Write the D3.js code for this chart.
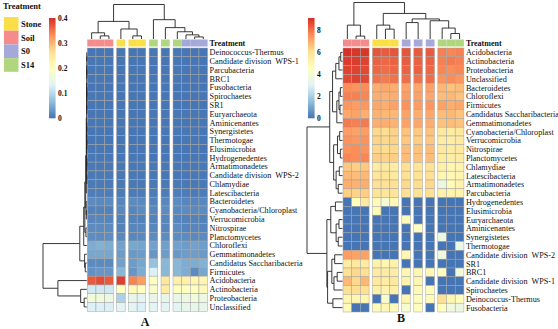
<!DOCTYPE html>
<html>

<head>
    <meta charset="utf-8">
    <script src="https://d3js.org/d3.v7.min.js"></script>
    <style>
        body { margin: 0; background: #fff; }
        text { font-family: "Liberation Serif", "DejaVu Serif", serif; fill: #111; }
    </style>
</head>

<body>
    <script type="text/javascript">
        // treatments and their annotation colours
        const treatments = ["Stone", "Soil", "S0", "S14"];
        const treatmentColors = ["#FADF48", "#F58C8B", "#A5A9DA", "#B1D680"];
        const heatColors = ["#4575B4", "#91BFDB", "#E0F3F8", "#FFFFBF", "#FEE090", "#FC8D59", "#D73027"];

        // ---- panel A : relative abundance ----
        const samplesA = ["Soil_1", "Soil_2", "Soil_3", "Stone_1", "Stone_2", "Stone_3",
            "S14_1", "S14_2", "S14_3", "S0_1", "S0_2", "S0_3"];
        const gapsA = [3, 4, 6, 7, 8];
        const ticksA = [0, 0.1, 0.2, 0.3, 0.4];
        const maxA = 0.4;
        const phylaA = ["Deinococcus-Thermus", "Candidate division  WPS-1", "Parcubacteria", "BRC1",
            "Fusobacteria", "Spirochaetes", "SR1", "Euryarchaeota", "Aminicenantes", "Synergistetes",
            "Thermotogae", "Elusimicrobia", "Hydrogenedentes", "Armatimonadetes",
            "Candidate division  WPS-2", "Chlamydiae", "Latescibacteria", "Bacteroidetes",
            "Cyanobacteria/Chloroplast", "Verrucomicrobia", "Nitrospirae", "Planctomycetes",
            "Chloroflexi", "Gemmatimonadetes", "Candidatus Saccharibacteria", "Firmicutes",
            "Acidobacteria", "Actinobacteria", "Proteobacteria", "Unclassified"];
        const abundA = [
            [0.001, 0.001, 0.001, 0.002, 0.001, 0.001, 0.002, 0.001, 0.001, 0.001, 0.001, 0.002],
            [0.002, 0.002, 0.002, 0.001, 0.001, 0.001, 0.001, 0.001, 0.001, 0.001, 0.001, 0.001],
            [0.002, 0.002, 0.002, 0.001, 0.002, 0.002, 0.001, 0.002, 0.002, 0.002, 0.002, 0.002],
            [0.002, 0.002, 0.002, 0.002, 0.001, 0.001, 0.001, 0.001, 0.002, 0.001, 0.001, 0.001],
            [0.001, 0.001, 0.001, 0.001, 0.001, 0.001, 0.001, 0.001, 0.001, 0.001, 0.001, 0.001],
            [0.002, 0.002, 0.002, 0.001, 0.001, 0.001, 0.001, 0.001, 0.001, 0.001, 0.001, 0.001],
            [0.002, 0.002, 0.002, 0.002, 0.002, 0.002, 0.001, 0.001, 0.001, 0.001, 0.001, 0.001],
            [0.001, 0.001, 0.001, 0.001, 0.001, 0.001, 0.002, 0.002, 0.002, 0.002, 0.002, 0.002],
            [0.002, 0.002, 0.002, 0.001, 0.001, 0.001, 0.001, 0.001, 0.001, 0.001, 0.001, 0.001],
            [0.001, 0.001, 0.001, 0.001, 0.001, 0.001, 0.002, 0.002, 0.002, 0.002, 0.002, 0.002],
            [0.001, 0.001, 0.001, 0.001, 0.001, 0.001, 0.001, 0.001, 0.001, 0.002, 0.002, 0.002],
            [0.002, 0.002, 0.002, 0.001, 0.001, 0.001, 0.001, 0.001, 0.001, 0.001, 0.001, 0.001],
            [0.003, 0.003, 0.003, 0.002, 0.002, 0.002, 0.001, 0.001, 0.001, 0.002, 0.002, 0.002],
            [0.004, 0.004, 0.004, 0.003, 0.003, 0.003, 0.003, 0.003, 0.003, 0.003, 0.003, 0.003],
            [0.005, 0.005, 0.005, 0.003, 0.003, 0.003, 0.002, 0.002, 0.002, 0.003, 0.003, 0.003],
            [0.005, 0.005, 0.005, 0.004, 0.004, 0.004, 0.004, 0.004, 0.004, 0.004, 0.004, 0.004],
            [0.008, 0.008, 0.008, 0.006, 0.006, 0.007, 0.006, 0.007, 0.008, 0.007, 0.006, 0.007],
            [0.020, 0.018, 0.020, 0.015, 0.020, 0.018, 0.012, 0.016, 0.020, 0.015, 0.014, 0.016],
            [0.012, 0.012, 0.012, 0.018, 0.015, 0.020, 0.016, 0.020, 0.018, 0.020, 0.018, 0.020],
            [0.015, 0.016, 0.015, 0.012, 0.013, 0.012, 0.013, 0.015, 0.014, 0.012, 0.013, 0.012],
            [0.020, 0.020, 0.020, 0.012, 0.015, 0.016, 0.016, 0.015, 0.020, 0.014, 0.015, 0.014],
            [0.022, 0.020, 0.022, 0.018, 0.016, 0.018, 0.020, 0.020, 0.022, 0.020, 0.018, 0.020],
            [0.050, 0.055, 0.050, 0.040, 0.045, 0.042, 0.040, 0.038, 0.040, 0.035, 0.040, 0.036],
            [0.045, 0.045, 0.045, 0.035, 0.032, 0.035, 0.030, 0.035, 0.032, 0.035, 0.036, 0.033],
            [0.020, 0.020, 0.020, 0.040, 0.035, 0.045, 0.070, 0.060, 0.060, 0.050, 0.050, 0.055],
            [0.025, 0.030, 0.030, 0.060, 0.030, 0.050, 0.130, 0.060, 0.060, 0.050, 0.020, 0.045],
            [0.370, 0.380, 0.370, 0.390, 0.340, 0.320, 0.200, 0.250, 0.230, 0.230, 0.220, 0.220],
            [0.120, 0.120, 0.120, 0.200, 0.210, 0.200, 0.190, 0.240, 0.200, 0.200, 0.200, 0.210],
            [0.170, 0.170, 0.160, 0.090, 0.150, 0.140, 0.150, 0.150, 0.150, 0.160, 0.170, 0.160],
            [0.130, 0.130, 0.130, 0.140, 0.140, 0.130, 0.140, 0.140, 0.140, 0.150, 0.150, 0.150]
        ];
        // dendrograms as [height, left, right]
        const rowTreeA = [1.0,
            [0.16,
                [0.07,
                    [0.045,
                        [0.025,
                            [0.012,
                                [0.004,
                                    [0.002, [0.001, [0.0005, "Deinococcus-Thermus", "Candidate division  WPS-1"], [0.0005, "Parcubacteria", "BRC1"]],
                                        [0.001, [0.0005, "Fusobacteria", "Spirochaetes"], [0.0005, "SR1", "Euryarchaeota"]]],
                                    [0.003, [0.001, [0.0005, "Aminicenantes", "Synergistetes"], [0.0005, "Thermotogae", "Elusimicrobia"]],
                                        [0.002, [0.001, "Hydrogenedentes", "Armatimonadetes"], [0.001, "Candidate division  WPS-2", "Chlamydiae"]]]],
                                "Latescibacteria"],
                            [0.015, "Bacteroidetes", [0.01, "Cyanobacteria/Chloroplast", "Verrucomicrobia"]]],
                        [0.02, "Nitrospirae", "Planctomycetes"]],
                    "Chloroflexi"],
                [0.05, "Gemmatimonadetes", [0.035, "Candidatus Saccharibacteria", "Firmicutes"]]],
            [0.66, "Acidobacteria", [0.14, "Actinobacteria", [0.06, "Proteobacteria", "Unclassified"]]]
        ];
        const colTreeA = [1.0,
            [0.51, [0.18, "Soil_1", [0.09, "Soil_2", "Soil_3"]], [0.29, "Stone_1", [0.09, "Stone_2", "Stone_3"]]],
            [0.56, "S14_1", [0.33, "S14_2", [0.21, "S14_3", [0.12, "S0_1", [0.06, "S0_2", "S0_3"]]]]]
        ];

        // ---- panel B : log abundance ----
        const samplesB = ["Soil_1", "Soil_2", "Soil_3", "Stone_1", "Stone_2", "Stone_3",
            "S0_1", "S0_2", "S0_3", "S14_1", "S14_2", "S14_3"];
        const gapsB = [3, 6, 7, 8, 9];
        const ticksB = [0, 2, 4, 6, 8];
        const maxB = 9.1;
        const phylaB = ["Acidobacteria", "Actinobacteria", "Proteobacteria", "Unclassified",
            "Bacteroidetes", "Chloroflexi", "Firmicutes", "Candidatus Saccharibacteria",
            "Gemmatimonadetes", "Cyanobacteria/Chloroplast", "Verrucomicrobia", "Nitrospirae",
            "Planctomycetes", "Chlamydiae", "Latescibacteria", "Armatimonadetes", "Parcubacteria",
            "Hydrogenedentes", "Elusimicrobia", "Euryarchaeota", "Aminicenantes", "Synergistetes",
            "Thermotogae", "Candidate division  WPS-2", "SR1", "BRC1", "Candidate division  WPS-1",
            "Spirochaetes", "Deinococcus-Thermus", "Fusobacteria"];
        const logB = [
            [9.1, 9.0, 9.0, 8.5, 8.4, 8.5, 8.5, 8.4, 8.4, 7.8, 7.7, 7.8],
            [8.9, 8.9, 8.8, 8.3, 8.2, 8.3, 8.4, 8.3, 8.3, 7.8, 7.9, 7.8],
            [8.8, 8.8, 8.7, 8.2, 8.1, 8.2, 8.3, 8.3, 8.2, 7.7, 7.6, 7.7],
            [8.7, 8.8, 8.7, 8.0, 7.9, 8.0, 8.1, 8.0, 8.1, 7.5, 7.6, 7.4],
            [7.6, 7.5, 7.6, 7.0, 7.1, 7.0, 7.2, 7.1, 7.2, 6.8, 6.6, 6.7],
            [7.8, 7.8, 7.7, 7.0, 6.9, 7.0, 7.3, 7.2, 7.1, 6.7, 6.8, 6.6],
            [7.4, 7.3, 7.4, 7.1, 7.0, 7.2, 7.5, 7.3, 7.4, 7.2, 7.0, 7.1],
            [7.1, 7.2, 7.0, 6.9, 6.8, 6.8, 7.2, 7.0, 7.1, 6.7, 6.8, 6.6],
            [7.9, 7.8, 7.9, 7.0, 7.0, 6.9, 7.2, 7.1, 7.0, 6.6, 6.7, 6.6],
            [7.3, 7.2, 7.3, 6.2, 6.1, 6.3, 6.6, 6.5, 6.6, 5.6, 5.5, 5.6],
            [7.5, 7.4, 7.5, 6.3, 6.2, 6.3, 6.5, 6.4, 6.5, 5.5, 5.4, 5.6],
            [7.5, 7.6, 7.5, 6.2, 6.1, 6.2, 6.7, 6.6, 6.7, 5.6, 5.5, 5.6],
            [7.7, 7.6, 7.7, 6.4, 6.3, 6.4, 6.7, 6.6, 6.7, 5.5, 5.4, 5.5],
            [6.5, 6.4, 6.5, 5.5, 5.6, 5.4, 6.0, 5.8, 5.9, 5.3, 5.0, 5.1],
            [6.8, 6.7, 6.8, 5.7, 5.8, 5.6, 6.0, 5.9, 6.0, 5.0, 4.9, 5.1],
            [7.0, 6.9, 7.0, 6.0, 5.9, 6.0, 6.2, 6.1, 6.2, 3.6, 4.8, 5.2],
            [6.4, 6.3, 6.4, 5.8, 5.7, 5.8, 6.0, 5.9, 6.0, 5.2, 5.1, 5.2],
            [0.0, 4.6, 5.6, 4.8, 4.0, 4.9, 0.0, 0.0, 0.0, 0.0, 0.0, 0.0],
            [0.0, 0.0, 0.0, 4.8, 0.0, 0.0, 0.0, 0.0, 0.0, 0.0, 0.0, 0.0],
            [0.0, 0.0, 0.0, 0.0, 0.0, 0.0, 4.8, 0.0, 0.0, 0.0, 0.0, 0.0],
            [0.0, 0.0, 0.0, 0.0, 0.0, 0.0, 0.0, 4.5, 0.0, 0.0, 0.0, 0.0],
            [0.0, 0.0, 0.0, 0.0, 0.0, 0.0, 0.0, 0.0, 0.0, 3.6, 0.0, 0.0],
            [0.0, 0.0, 0.0, 0.0, 0.0, 0.0, 0.0, 0.0, 0.0, 0.0, 0.0, 3.5],
            [7.3, 7.2, 7.2, 0.0, 0.0, 0.0, 5.0, 0.0, 0.0, 3.8, 0.0, 0.0],
            [5.5, 5.6, 5.5, 5.2, 5.0, 5.2, 0.0, 0.0, 0.0, 0.0, 0.0, 0.0],
            [6.0, 6.2, 6.0, 5.5, 5.5, 5.4, 5.0, 5.0, 4.9, 4.5, 0.0, 3.8],
            [6.8, 6.2, 6.8, 5.6, 5.5, 5.6, 5.2, 5.0, 0.0, 0.0, 0.0, 0.0],
            [6.0, 6.1, 6.0, 5.3, 5.2, 5.3, 0.0, 4.8, 4.6, 0.0, 0.0, 0.0],
            [5.0, 5.0, 5.0, 0.0, 4.2, 0.0, 5.0, 4.6, 4.7, 6.0, 5.0, 4.6],
            [4.8, 0.0, 0.0, 4.8, 5.0, 4.8, 4.2, 4.6, 0.0, 4.6, 3.8, 3.6]
        ];
        const rowTreeB = [1.0,
            [0.36,
                [0.28,
                    [0.19, [0.1, [0.05, "Acidobacteria", "Actinobacteria"], "Proteobacteria"], "Unclassified"],
                    [0.16, [0.1, [0.06, "Bacteroidetes", "Chloroflexi"], [0.07, "Firmicutes", "Candidatus Saccharibacteria"]], "Gemmatimonadetes"]],
                [0.25,
                    [0.14, [0.08, "Cyanobacteria/Chloroplast", "Verrucomicrobia"], [0.06, "Nitrospirae", "Planctomycetes"]],
                    [0.18, [0.09, "Chlamydiae", "Latescibacteria"], [0.12, "Armatimonadetes", "Parcubacteria"]]]],
            [0.44,
                [0.33, [0.2, "Hydrogenedentes", "Elusimicrobia"], [0.18, [0.1, "Euryarchaeota", "Aminicenantes"], [0.12, "Synergistetes", "Thermotogae"]]],
                [0.42,
                    [0.3, [0.22, "Candidate division  WPS-2", "SR1"], [0.24, [0.15, "BRC1", "Candidate division  WPS-1"], "Spirochaetes"]],
                    [0.27, "Deinococcus-Thermus", "Fusobacteria"]]]
        ];
        const colTreeB = [1.0,
            [0.38, "Soil_1", [0.08, "Soil_2", "Soil_3"]],
            [0.7,
                [0.38, "Stone_1", [0.27, "Stone_2", "Stone_3"]],
                [0.55, [0.45, "S0_1", "S0_2"], [0.5, "S0_3", [0.3, "S14_1", [0.15, "S14_2", "S14_3"]]]]]
        ];

        const groupOf = s => s.split("_")[0];
        const treatColor = d3.scaleOrdinal(treatments, treatmentColors);

        let svg = d3.select("body")
            .append("svg")
            .attr("width", 558)
            .attr("height", 329);

        // elbow dendrogram; heights -> hPos, leaves -> leafPos
        function drawTree(g, tree, leafPos, hPos, vertical) {
            let root = d3.hierarchy(tree, d => Array.isArray(d) ? d.slice(1) : null);
            root.eachAfter(n => {
                n.h = n.children ? n.data[0] : 0;
                n.pos = n.children ? d3.mean(n.children, c => c.pos) : leafPos(n.data);
            });
            let path = d3.path();
            root.each(n => {
                if (!n.children) return;
                let [a, b] = n.children;
                let pts = [[a.pos, a.h], [a.pos, n.h], [b.pos, n.h], [b.pos, b.h]]
                    .map(([p, h]) => vertical ? [p, hPos(h)] : [hPos(h), p]);
                path.moveTo(pts[0][0], pts[0][1]);
                pts.slice(1).forEach(pt => path.lineTo(pt[0], pt[1]));
            });
            g.append("path")
                .attr("d", path.toString())
                .attr("fill", "none")
                .attr("stroke", "#222")
                .attr("stroke-width", 0.9);
        }

        function drawPanel(p) {
            let g = svg.append("g");
            let offs = 0;
            let xs = p.samples.map((s, i) => {
                if (p.gaps.includes(i)) offs += p.gap;
                return p.x0 + i * p.cw + offs;
            });
            let x = d3.scaleOrdinal(p.samples, xs);
            let y = d3.scaleBand().domain(p.rows).range([p.y0, p.y1]);
            let color = d3.scaleLinear()
                .domain(d3.range(heatColors.length).map(i => i * p.max / (heatColors.length - 1)))
                .range(heatColors)
                .clamp(true);

            // cells
            p.rows.forEach((r, ri) => {
                g.selectAll(null)
                    .data(p.values[ri])
                    .join("rect")
                    .attr("x", (v, ci) => x(p.samples[ci]))
                    .attr("y", y(r))
                    .attr("width", p.cw)
                    .attr("height", y.bandwidth())
                    .attr("fill", v => color(v))
                    .attr("stroke", "#a3a3a3")
                    .attr("stroke-width", 0.5);
            });

            // treatment annotation
            g.selectAll(null)
                .data(p.samples)
                .join("rect")
                .attr("x", s => x(s))
                .attr("y", p.annY)
                .attr("width", p.cw)
                .attr("height", 7)
                .attr("fill", s => treatColor(groupOf(s)));
            g.append("text")
                .attr("x", xs[xs.length - 1] + p.cw + 2)
                .attr("y", p.annY + 6.5)
                .attr("font-size", 8)
                .attr("font-weight", "bold")
                .text("Treatment");

            // row labels
            g.selectAll(null)
                .data(p.rows)
                .join("text")
                .attr("x", xs[xs.length - 1] + p.cw + 2)
                .attr("y", r => y(r) + y.bandwidth() / 2 + 2.9)
                .attr("font-size", 8.2)
                .style("white-space", "pre")
                .text(r => r);

            // dendrograms
            drawTree(g, p.colTree, s => x(s) + p.cw / 2,
                d3.scaleLinear().domain([0, 1]).range([p.annY - 0.5, p.colTop]), true);
            drawTree(g, p.rowTree, r => y(r) + y.bandwidth() / 2,
                d3.scaleLinear().domain([0, 1]).range([p.x0 - 0.5, p.rowLeft]), false);

            // colour key
            let ky = d3.scaleLinear().domain([0, p.max]).range([118, 18]);
            let steps = d3.range(100).map(i => i * p.max / 100);
            g.selectAll(null)
                .data(steps)
                .join("rect")
                .attr("x", p.keyX)
                .attr("y", v => ky(v + p.max / 100))
                .attr("width", 6.5)
                .attr("height", ky(0) - ky(p.max / 100) + 0.3)
                .attr("fill", v => color(v + p.max / 200));
            g.selectAll(null)
                .data(p.ticks)
                .join("text")
                .attr("x", p.keyX + 9)
                .attr("y", v => ky(v) + 3)
                .attr("font-size", 7.5)
                .attr("font-weight", "bold")
                .text(v => v);

            // panel letter
            g.append("text")
                .attr("x", p.letterX)
                .attr("y", p.letterY)
                .attr("text-anchor", "middle")
                .attr("font-size", 12)
                .attr("font-weight", "bold")
                .text(p.letter);
        }

        drawPanel({
            samples: samplesA, gaps: gapsA, rows: phylaA, values: abundA,
            rowTree: rowTreeA, colTree: colTreeA, max: maxA, ticks: ticksA,
            x0: 87.3, cw: 8.65, gap: 3.3, y0: 48, y1: 311.3, annY: 39.5,
            colTop: 4.5, rowLeft: 43, keyX: 49, letter: "A", letterX: 145, letterY: 326
        });
        drawPanel({
            samples: samplesB, gaps: gapsB, rows: phylaB, values: logB,
            rowTree: rowTreeB, colTree: colTreeB, max: maxB, ticks: ticksB,
            x0: 343, cw: 8.7, gap: 3.3, y0: 48, y1: 312, annY: 39.5,
            colTop: 2.5, rowLeft: 307, keyX: 308, letter: "B", letterX: 401, letterY: 322
        });

        // treatment legend
        let leg = svg.append("g");
        leg.append("text")
            .attr("x", 3)
            .attr("y", 9)
            .attr("font-size", 8.5)
            .attr("font-weight", "bold")
            .text("Treatment");
        leg.selectAll(null)
            .data(treatments)
            .join("rect")
            .attr("x", 4)
            .attr("y", (t, i) => 17 + i * 13.7)
            .attr("width", 14.5)
            .attr("height", 13.7)
            .attr("fill", t => treatColor(t));
        leg.selectAll(null)
            .data(treatments)
            .join("text")
            .attr("x", 21)
            .attr("y", (t, i) => 17 + i * 13.7 + 10)
            .attr("font-size", 8.5)
            .attr("font-weight", "bold")
            .text(t => t);
    </script>
</body>

</html>
